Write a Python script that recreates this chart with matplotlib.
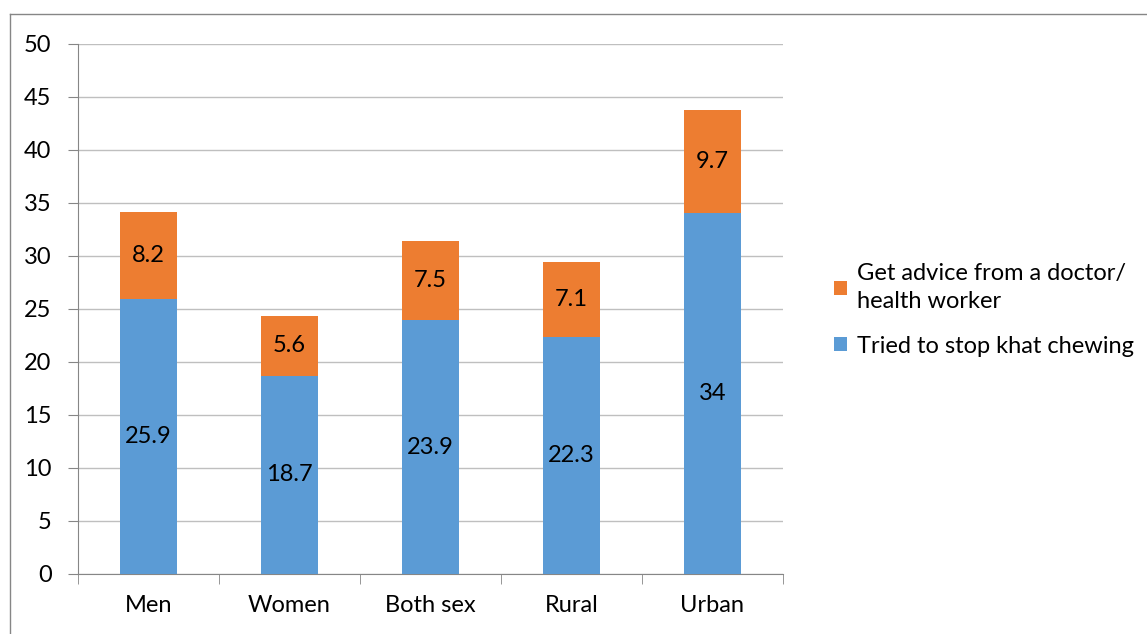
import matplotlib.pyplot as plt
from matplotlib.lines import Line2D

# Data
categories = ["Men", "Women", "Both sex", "Rural", "Urban"]
tried_stop = [25.9, 18.7, 23.9, 22.3, 34]
advice = [8.2, 5.6, 7.5, 7.1, 9.7]
advice_labels = ["8.2", "5.6", "7.5", "7.1", "9.7"]
tried_labels = ["25.9", "18.7", "23.9", "22.3", "34"]

plt.rcParams['font.family'] = ['Lato', 'DejaVu Sans']

blue = "#5B9BD5"
orange = "#ED7D31"
grid_col = "#BFBFBF"
axis_col = "#868686"
fs = 17

W, H = 1147, 634
fig = plt.figure(figsize=(W / 100, H / 100), dpi=100)
ax = fig.add_axes([78 / W, 1 - 574 / H, (783 - 78) / W, (574 - 43.5) / H])

x = range(len(categories))
b1 = ax.bar(x, tried_stop, width=0.4, color=blue, label="Tried to stop khat chewing", zorder=3)
b2 = ax.bar(x, advice, width=0.4, bottom=tried_stop, color=orange,
            label="Get advice from a doctor/\nhealth worker", zorder=3)

ax.bar_label(b1, labels=tried_labels, label_type='center', fontsize=fs, color="#000000")
ax.bar_label(b2, labels=advice_labels, label_type='center', fontsize=fs, color="#000000")

ax.set_xlim(-0.5, 4.5)
ax.set_ylim(0, 50)
ax.set_yticks(range(0, 51, 5))
ax.yaxis.grid(True, color=grid_col, linewidth=1, zorder=0)
ax.set_xticks(list(x))
ax.set_xticklabels(categories)
ax.set_xticks([i - 0.5 for i in range(len(categories) + 1)], minor=True)
ax.tick_params(axis='x', which='major', length=0, labelsize=fs, pad=15)
ax.tick_params(axis='x', which='minor', length=7, color=axis_col)
ax.tick_params(axis='y', length=7, color=axis_col, labelsize=fs, pad=12)

for s in ["top", "right"]:
    ax.spines[s].set_visible(False)
for s in ["left", "bottom"]:
    ax.spines[s].set_color(axis_col)

handles = [b2, b1]
leg = fig.legend(handles, [h.get_label() for h in handles], loc='center left',
                 bbox_to_anchor=(813 / W, 1 - 310 / H), frameon=False, fontsize=fs,
                 handlelength=0.55, handleheight=0.55, handletextpad=0.4, labelspacing=1.0)
for t in leg.get_texts():
    t.set_linespacing(1.4)

# chart border (top and left edges visible)
fig.add_artist(Line2D([10 / W, 10 / W], [0, 1 - 13.5 / H], transform=fig.transFigure,
                      color=axis_col, linewidth=1))
fig.add_artist(Line2D([10 / W, 1], [1 - 13.5 / H, 1 - 13.5 / H], transform=fig.transFigure,
                      color=axis_col, linewidth=1))

plt.savefig("out.png", dpi=100)
